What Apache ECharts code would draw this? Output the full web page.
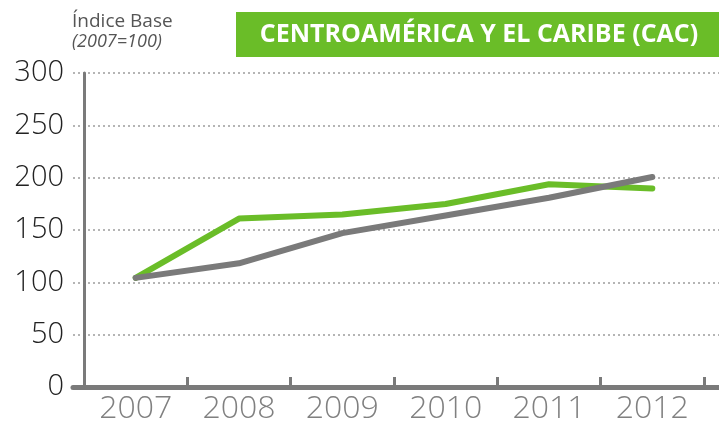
<!DOCTYPE html>
<html>
<head>
<meta charset="utf-8">
<script src="https://cdn.jsdelivr.net/npm/echarts@6/dist/echarts.min.js"></script>
<style>
  html, body { margin: 0; padding: 0; background: #fff; }
  #chart { width: 719px; height: 425px; }
</style>
</head>
<body>
<div id="chart"></div>
<script>
const years = ['2007', '2008', '2009', '2010', '2011', '2012']
const cacValues = [103, 160, 164, 174, 193, 189]
const otherValues = [103, 117, 146, 163, 180, 200]
const yTicks = [0, 50, 100, 150, 200, 250, 300]

const GREEN = '#6abd28'
const GRAY = '#7a7a7a'
const FONT = '"Open Sans", "DejaVu Sans", sans-serif'

const chart = echarts.init(document.getElementById('chart'))

chart.setOption({
  animation: false,
  grid: [
    // grid 0: gridlines, y labels and the long base line
    { left: 73, right: 0, top: 73, bottom: 38 },
    // grid 1: the data area between the tick marks
    { left: 84, width: 620, top: 73, bottom: 38 }
  ],
  xAxis: [
    {
      gridIndex: 0, type: 'value', min: 0, max: 1,
      axisLine: { show: true, lineStyle: { color: GRAY, width: 5 } },
      axisTick: { show: false }, axisLabel: { show: false }, splitLine: { show: false }
    },
    {
      gridIndex: 1, type: 'category', data: years, boundaryGap: true,
      axisLine: { show: false },
      axisTick: { show: true, inside: true, length: 8, lineStyle: { color: GRAY, width: 3 } },
      axisLabel: { color: '#808080', fontSize: 32, fontFamily: FONT, fontWeight: 300, margin: 8 },
      splitLine: { show: false }
    }
  ],
  yAxis: [
    {
      gridIndex: 0, type: 'value', min: yTicks[0], max: yTicks[yTicks.length - 1], interval: 50,
      axisLine: { show: false }, axisTick: { show: false },
      axisLabel: { color: '#222', fontSize: 29, fontFamily: FONT, fontWeight: 300, margin: 9 },
      splitLine: { show: true, lineStyle: { color: '#b5b5b5', width: 2, type: [2, 3] } }
    },
    {
      gridIndex: 1, type: 'value', min: 0, max: 300, interval: 50,
      axisLine: { show: true, lineStyle: { color: GRAY, width: 3 } },
      axisTick: { show: false }, axisLabel: { show: false }, splitLine: { show: false }
    }
  ],
  series: [
    {
      name: 'CAC', type: 'line', xAxisIndex: 1, yAxisIndex: 1,
      data: cacValues, symbol: 'none',
      lineStyle: { color: GREEN, width: 6, cap: 'round', join: 'round' }
    },
    {
      name: 'Total', type: 'line', xAxisIndex: 1, yAxisIndex: 1,
      data: otherValues, symbol: 'none',
      lineStyle: { color: GRAY, width: 6, cap: 'round', join: 'round' }
    }
  ],
  graphic: [
    { type: 'rect', left: 236, top: 12, shape: { width: 483, height: 45 }, style: { fill: GREEN } },
    {
      type: 'text', x: 479, y: 35,
      style: {
        text: 'CENTROAMÉRICA Y EL CARIBE (CAC)', fill: '#fff',
        font: 'bold 25px ' + FONT, textAlign: 'center', textVerticalAlign: 'middle'
      }
    },
    {
      type: 'text', x: 72, y: 22,
      style: { text: 'Índice Base', fill: '#555', font: '19px ' + FONT, textVerticalAlign: 'middle' }
    },
    {
      type: 'text', x: 72, y: 42,
      style: { text: '(2007=100)', fill: '#555', font: 'italic 18px ' + FONT, textVerticalAlign: 'middle' }
    }
  ]
})
</script>
</body>
</html>
